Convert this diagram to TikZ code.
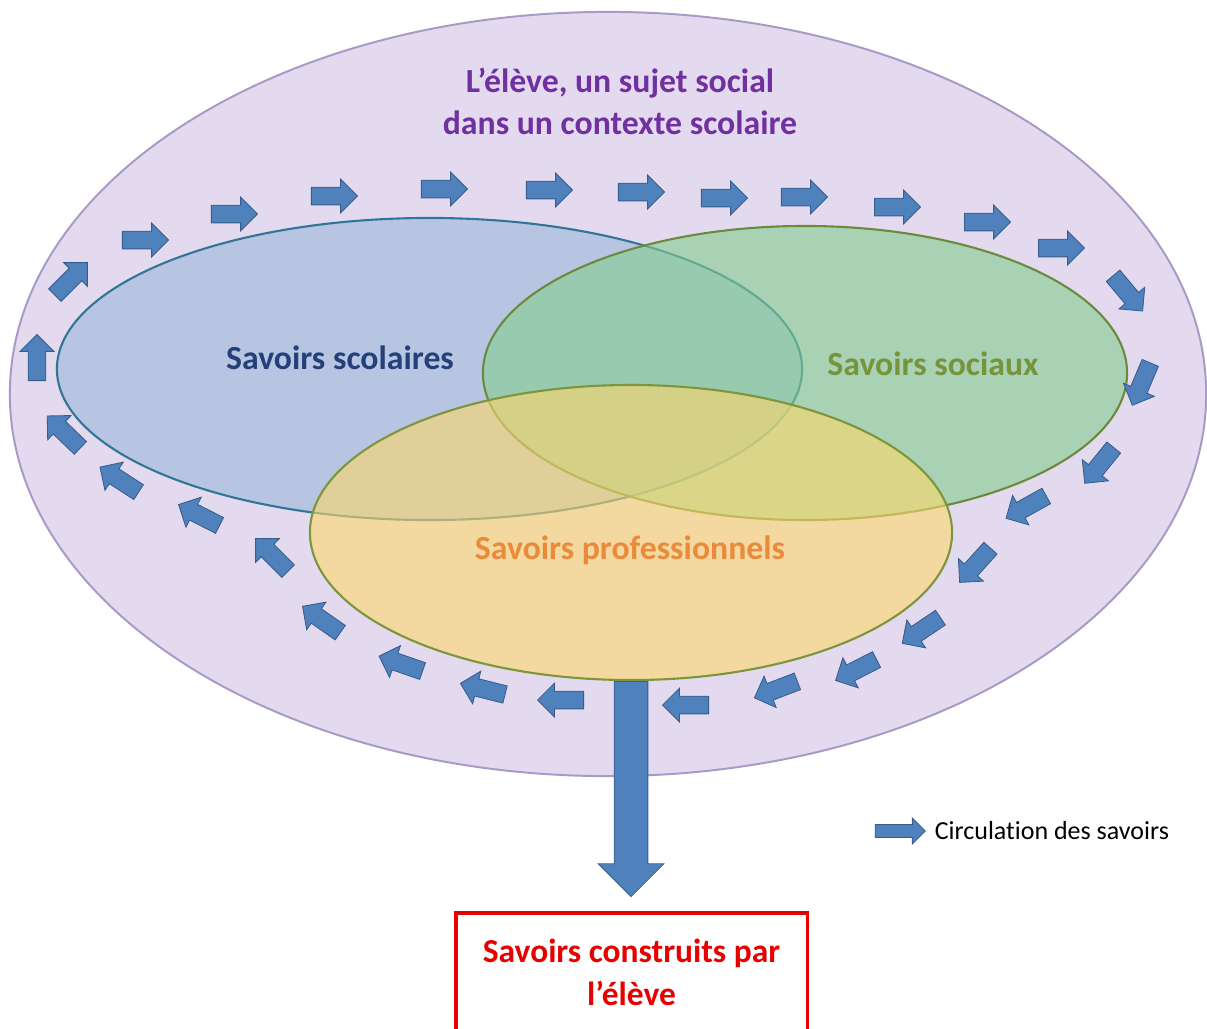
\documentclass[tikz,border=0pt]{standalone}
\usepackage{fontspec}
\setmainfont{Carlito}[Ligatures=NoCommon]
\usetikzlibrary{positioning, shapes.geometric, shapes.arrows}

\definecolor{bordeleve}{RGB}{168,154,196}
\definecolor{fondeleve}{RGB}{228,218,240}
\definecolor{fondscol}{RGB}{153,183,217}
\definecolor{bordscol}{RGB}{49,118,150}
\definecolor{fondsoc}{RGB}{131,206,142}
\definecolor{bordsoc}{RGB}{108,138,62}
\definecolor{fondpro}{RGB}{253,215,107}
\definecolor{bordpro}{RGB}{125,150,60}
\definecolor{flechefond}{RGB}{79,129,189}
\definecolor{flechebord}{RGB}{56,93,138}
\definecolor{violet}{RGB}{112,48,160}
\definecolor{bleuscol}{RGB}{36,64,120}
\definecolor{vertsoc}{RGB}{119,147,60}
\definecolor{orangepro}{RGB}{233,139,58}
\definecolor{rouge}{RGB}{230,0,0}

\begin{document}
\begin{tikzpicture}[
      x=0.025cm, y=-0.025cm,
      zone/.style={ellipse, draw, inner sep=0pt, line width=1.5pt, fill opacity=0.6},
      titre/.style={font=\bfseries\fontsize{24}{30}\selectfont, text=violet, align=center},
      savoir/.style={font=\bfseries\fontsize{24}{28}\selectfont},
      flux/.style={single arrow, draw=flechebord, fill=flechefond, line width=0.6pt,
                   inner xsep=0pt, inner ysep=0.21cm, single arrow head extend=0.2cm,
                   minimum height=1.15cm},
      gros/.style={single arrow, draw=flechebord, fill=flechefond, line width=0.6pt,
                   inner xsep=0pt, inner ysep=0.41cm, single arrow head extend=0.4cm,
                   minimum height=5.375cm},
      resultat/.style={draw=rouge, line width=2.2pt, text=rouge, align=center,
                       font=\bfseries\fontsize{23.8}{31}\selectfont,
                       minimum width=8.775cm, minimum height=2.975cm, inner sep=0pt}
    ]
    \useasboundingbox (0,0) rectangle (1207,1028);

    % les trois ensembles dans l'eleve
    \node[ellipse, draw=bordeleve, fill=fondeleve, line width=1.4pt, inner sep=0pt,
          minimum width=29.9cm, minimum height=19.1cm] (eleve) at (608,394) {};
    \node[zone, draw=bordscol, fill=fondscol, minimum width=18.625cm, minimum height=7.55cm] (scol) at (429.5,369) {};
    \node[zone, draw=bordsoc, fill=fondsoc, minimum width=16.1cm, minimum height=7.35cm] (soc) at (805,373) {};
    \node[zone, draw=bordpro, fill=fondpro, minimum width=16.05cm, minimum height=7.375cm] (pro) at (631,532.5) {};

    % textes
    \node[titre] (titreeleve) at (620,101) {L’élève, un sujet social\\dans un contexte scolaire};
    \node[savoir, text=bleuscol] (txtscol) at (340,358) {Savoirs scolaires};
    \node[savoir, text=vertsoc] (txtsoc) at (933,364) {Savoirs sociaux};
    \node[savoir, text=orangepro] (txtpro) at (630,550) {Savoirs professionnels};

    % circulation des savoirs
    \foreach \px/\py/\ang [count=\i] in {68/282/45, 141/240/0, 230/214/0, 330/196/0,
        440/189/0, 545/190/0, 637/192/0, 720/198/0, 800/197/0, 893/207/0, 983/222/0,
        1057/248/0, 1125/290/-50, 1143/380/-113, 1102/462/-129, 1030/505/-151,
        978/562/-132, 925/628/-146, 860/668/-153, 780/688/-159, 690/705/180,
        565/700/180, 487/690/166, 405/665/161, 325/622/145, 275/558/135,
        203/517/153, 123/482/147, 67/435/136, 37/362/90}
      \node[flux, rotate=\ang] (circ\i) at (\px,\py) {};

    % sortie vers les savoirs construits
    \node[resultat] (construits) at (631.5,972.5) {Savoirs construits par\\l’élève};
    \node[gros, rotate=-90, anchor=tail] (sortie) at (pro.south) {};

    % legende
    \node[flux, minimum height=1.25cm, inner ysep=0.15cm, single arrow head extend=0.16cm] (legfleche) at (897,831) {};
    \node[font=\fontsize{18.5}{22}\selectfont, right=0.1cm of legfleche] (legtexte) {Circulation des savoirs};
  \end{tikzpicture}
\end{document}
